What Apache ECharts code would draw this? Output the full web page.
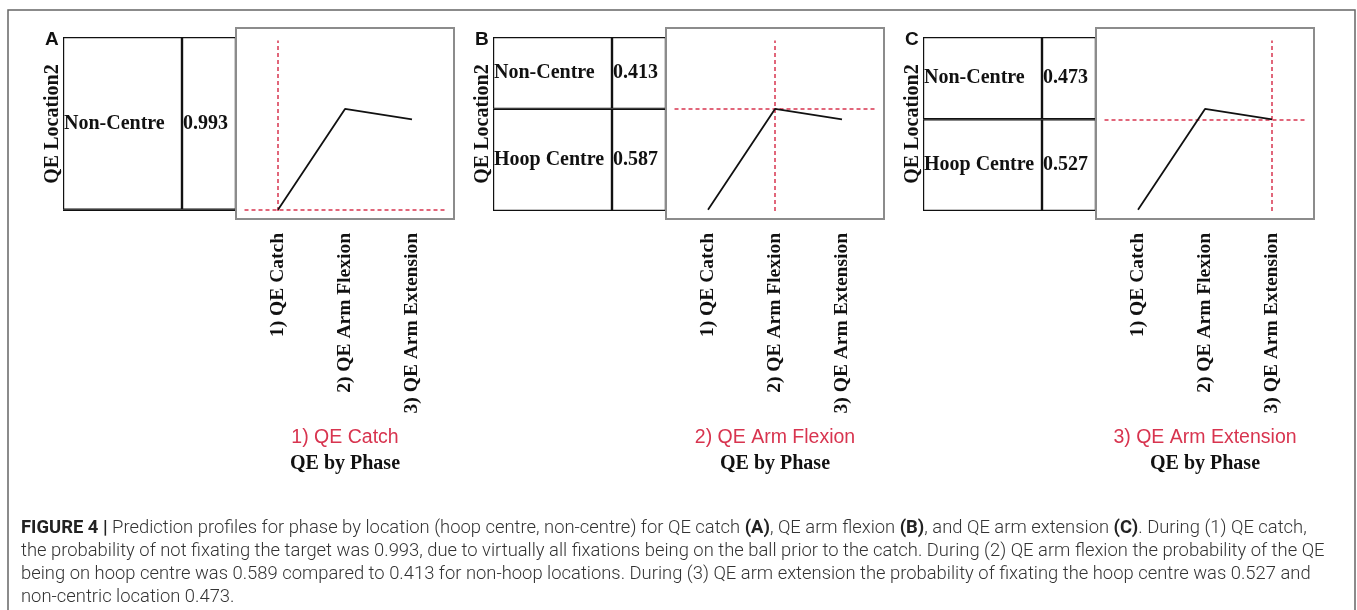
<!DOCTYPE html>
<html>
<head>
<meta charset="utf-8">
<script src="https://cdn.jsdelivr.net/npm/echarts@6/dist/echarts.min.js"></script>
<style>
  html, body { margin: 0; padding: 0; background: #fff; }
  #chart { width: 1357px; height: 610px; }
</style>
</head>
<body>
<div id="chart"></div>
<script>
// Prediction profile data
const phases = ['1) QE Catch', '2) QE Arm Flexion', '3) QE Arm Extension'];
const phasePos = [1, 2, 3];
const hoopCentreProb = [0.007, 0.587, 0.527];

// one panel per selected phase
const panelLetters = ['A', 'B', 'C'];
const selectedPhase = [0, 1, 2];
const locations = ['Hoop Centre', 'Non-Centre'];
const hoopShare = [0.007, 0.587, 0.527];
const nonShare = [0.993, 0.413, 0.473];

const captionLines = [
  '{b|FIGURE 4 |} Prediction profiles for phase by location (hoop centre, non-centre) for QE catch {b|(A)}, QE arm flexion {b|(B)}, and QE arm extension {b|(C)}. During (1) QE catch,',
  'the probability of not fixating the target was 0.993, due to virtually all fixations being on the ball prior to the catch. During (2) QE arm flexion the probability of the QE',
  'being on hoop centre was 0.589 compared to 0.413 for non-hoop locations. During (3) QE arm extension the probability of fixating the hoop centre was 0.527 and',
  'non-centric location 0.473.'
];

const RED = '#d8344f';
const SERIF = "'Liberation Serif', 'DejaVu Serif', serif";
const SANS = "'Liberation Sans', Arial, sans-serif";
const CAPTION = "Roboto, 'Liberation Sans', sans-serif";

const chart = echarts.init(document.getElementById('chart'));

const grid = [], xAxis = [], yAxis = [], series = [], graphic = [];

panelLetters.forEach((letter, p) => {
  const dx = 430 * p;
  const sel = selectedPhase[p];
  const g = grid.length;

  // mosaic: label column, value column, profile plot
  grid.push({ left: 63 + dx, top: 37, width: 119, height: 174 });
  grid.push({ left: 182 + dx, top: 37, width: 54, height: 174 });
  grid.push({
    left: 236 + dx, top: 28, width: 218, height: 191, z: 3,
    show: true, backgroundColor: '#fff', borderColor: '#8c8c8c', borderWidth: 2
  });

  [0, 1].forEach(k => {
    xAxis.push({ type: 'category', gridIndex: g + k, data: ['m'], show: false });
    yAxis.push({
      type: 'value', gridIndex: g + k, min: 0, max: 1,
      name: k === 0 ? 'QE Location2' : '',
      nameLocation: 'middle', nameRotate: 90, nameGap: 0,
      nameTextStyle: { fontFamily: SERIF, fontWeight: 'bold', fontSize: 20, color: '#111' },
      axisLine: { show: false }, axisTick: { show: false },
      axisLabel: { show: false }, splitLine: { show: false }
    });
  });

  xAxis.push({
    type: 'value', gridIndex: g + 2, min: 0.373, max: 3.627,
    axisLine: { show: false },
    splitLine: { show: false },
    axisTick: { customValues: phasePos, length: 8, lineStyle: { color: '#8c8c8c', width: 2 } },
    axisLabel: {
      customValues: phasePos, rotate: 90, margin: 14,
      fontFamily: SERIF, fontWeight: 'bold', fontSize: 19.5, color: '#111',
      formatter: v => phases[Math.round(v) - 1]
    },
    name: '{sel|' + phases[sel] + '}\n{ttl|QE by Phase}',
    nameLocation: 'middle', nameGap: 206,
    nameTextStyle: {
      rich: {
        sel: { fontFamily: SANS, fontSize: 19.5, color: RED, lineHeight: 26 },
        ttl: { fontFamily: SERIF, fontWeight: 'bold', fontSize: 20, color: '#111', lineHeight: 26 }
      }
    }
  });
  yAxis.push({
    type: 'value', gridIndex: g + 2, min: -0.046, max: 1.052, show: false
  });

  const shares = [hoopShare[p], nonShare[p]];
  locations.forEach((loc, k) => {
    const barStyle = { color: '#fff', borderColor: '#111', borderWidth: 1.2 };
    const labelBase = {
      position: 'insideLeft', distance: 1,
      fontFamily: SERIF, fontWeight: 'bold', fontSize: 20, color: '#111'
    };
    series.push({
      type: 'bar', name: loc, xAxisIndex: g, yAxisIndex: g, stack: 'mosaic' + p,
      barWidth: '100%', data: [shares[k]], itemStyle: barStyle, silent: true,
      label: Object.assign({ show: shares[k] > 0.05, formatter: () => loc }, labelBase)
    });
    series.push({
      type: 'bar', name: loc, xAxisIndex: g + 1, yAxisIndex: g + 1, stack: 'val' + p,
      barWidth: '100%', data: [shares[k]], itemStyle: barStyle, silent: true,
      label: Object.assign({ show: shares[k] > 0.05, formatter: () => shares[k].toFixed(3) }, labelBase)
    });
  });

  const y = hoopCentreProb[sel];
  series.push({
    type: 'line', xAxisIndex: g + 2, yAxisIndex: g + 2, z: 5,
    data: phasePos.map((x, i) => [x, hoopCentreProb[i]]),
    symbol: 'none', silent: true,
    lineStyle: { color: '#111', width: 1.8 },
    markLine: {
      silent: true, symbol: ['none', 'none'], label: { show: false },
      lineStyle: { color: RED, type: [4, 3], width: 1.5 },
      data: [
        [{ coord: [0.5, y] }, { coord: [3.5, y] }],
        [{ coord: [phasePos[sel], 0] }, { coord: [phasePos[sel], 0.98] }]
      ]
    }
  });

  graphic.push({
    type: 'text', left: 45 + dx, top: 30,
    style: { text: letter, font: 'bold 19px ' + SANS, fill: '#111' }
  });
});

// outer frame
graphic.push({
  type: 'rect', shape: { x: 8, y: 10, width: 1347, height: 620 },
  style: { fill: 'none', stroke: '#666', lineWidth: 1.5 }, silent: true
});

const option = {
  animation: false,
  backgroundColor: '#fff',
  title: {
    left: 21, top: 517, padding: 0,
    text: captionLines.join('\n'),
    textStyle: {
      fontFamily: CAPTION, fontSize: 18.4, fontWeight: 300, color: '#333', lineHeight: 23,
      rich: {
        b: { fontFamily: CAPTION, fontSize: 18.4, fontWeight: 'bold', color: '#222', lineHeight: 23 }
      }
    }
  },
  grid, xAxis, yAxis, series, graphic
};

chart.setOption(option);

window.addEventListener('resize', () => chart.resize());
</script>
</body>
</html>
